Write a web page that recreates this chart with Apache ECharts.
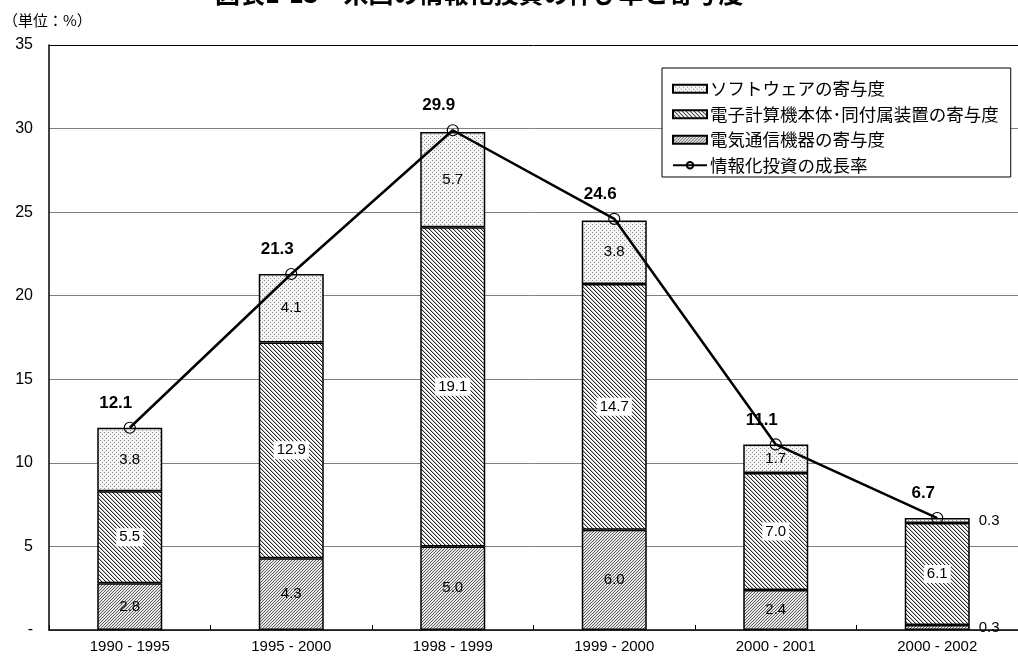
<!DOCTYPE html>
<html lang="ja">
<head>
<meta charset="utf-8">
<title>米国の情報化投資</title>
<script src="https://cdn.jsdelivr.net/npm/echarts@6/dist/echarts.min.js"></script>
<style>
  html, body { margin: 0; padding: 0; background: #fff; }
  #chart { width: 1018px; height: 659px; }
</style>
</head>
<body>
<div id="chart"></div>
<script>
// Periods on the category axis
const categories = ['1990 - 1995', '1995 - 2000', '1998 - 1999', '1999 - 2000', '2000 - 2001', '2000 - 2002'];
// Contributions (percentage points), stacked bottom to top
const telecom = [2.8, 4.3, 5.0, 6.0, 2.4, 0.3];      // 電気通信機器の寄与度
const computers = [5.5, 12.9, 19.1, 14.7, 7.0, 6.1]; // 電子計算機本体・同付属装置の寄与度
const software = [3.8, 4.1, 5.7, 3.8, 1.7, 0.3];     // ソフトウェアの寄与度
// Growth rate of IT investment (%)
const growth = [12.1, 21.3, 29.9, 24.6, 11.1, 6.7];  // 情報化投資の成長率

const seriesNames = ['ソフトウェアの寄与度', '電子計算機本体･同付属装置の寄与度', '電気通信機器の寄与度', '情報化投資の成長率'];

const FONT = '"Liberation Sans", Arial, "Noto Sans CJK JP", sans-serif';
const CJK = '"Noto Sans CJK JP", "Liberation Sans", sans-serif';

// Small repeating tiles used as fill patterns
function tile(size, bg, cells) {
  const c = document.createElement('canvas');
  c.width = size; c.height = size;
  const g = c.getContext('2d');
  g.fillStyle = bg; g.fillRect(0, 0, size, size);
  cells.forEach(([x, y, col]) => { g.fillStyle = col; g.fillRect(x, y, 1, 1); });
  return { image: c, repeat: 'repeat' };
}
// stipple
const dotFill = tile(4, '#f4f4f4', [[0, 0, '#8c8c8c'], [2, 2, '#8c8c8c']]);
// "\\\\" hatch
const backHatch = tile(4, '#ffffff', [[0, 0, '#2a2a2a'], [1, 1, '#2a2a2a'], [2, 2, '#2a2a2a'], [3, 3, '#2a2a2a'], [1, 0, '#c4c4c4'], [2, 1, '#c4c4c4'], [3, 2, '#c4c4c4'], [0, 3, '#c4c4c4']]);
// fine "////" hatch
const fwdHatch = tile(3, '#e6e6e6', [[2, 0, '#606060'], [1, 1, '#606060'], [0, 2, '#606060']]);

const segLabel = {
  show: true,
  position: 'inside',
  color: '#000',
  fontFamily: FONT,
  fontSize: 15,
  formatter: p => p.value.toFixed(1)
};

// thin segments get their value beside the bar
const sideLabel = v => (v < 1 ? { value: v, label: { position: 'right', distance: 9 } } : v);

const barStyle = fill => ({ color: fill, borderColor: '#000', borderWidth: 1.5 });

const chart = echarts.init(document.getElementById('chart'), null, { renderer: 'canvas' });

chart.setOption({
  animation: false,
  backgroundColor: '#fff',
  graphic: [
    {
      type: 'text', left: 215, top: -19, silent: true,
      style: { text: '図表1-13　米国の情報化投資の伸び率と寄与度', font: 'bold 25px ' + CJK, fill: '#000' }
    },
    {
      type: 'text', left: 3, top: 13, silent: true,
      style: { text: '（単位：%）', font: '15px ' + CJK, fill: '#000' }
    }
  ],
  legend: {
    orient: 'vertical',
    left: 662,
    top: 68,
    width: 350,
    padding: [12, 12, 3, 10],
    itemGap: 8,
    itemWidth: 34,
    itemHeight: 8,
    backgroundColor: '#fff',
    borderColor: '#000',
    borderWidth: 1,
    data: [
      { name: seriesNames[0], icon: 'rect' },
      { name: seriesNames[1], icon: 'rect' },
      { name: seriesNames[2], icon: 'rect' },
      { name: seriesNames[3] }
    ],
    textStyle: { fontFamily: CJK, fontSize: 17.5, color: '#000', padding: [0, 0, 0, -2] }
  },
  grid: { left: 49, right: -9, top: 45, bottom: 29, containLabel: false },
  xAxis: {
    type: 'category',
    data: categories,
    axisLine: { lineStyle: { color: '#000', width: 1.5 } },
    axisTick: { show: true, inside: true, length: 5, lineStyle: { color: '#000' } },
    axisLabel: { color: '#000', fontFamily: FONT, fontSize: 15, margin: 9 }
  },
  yAxis: {
    type: 'value',
    min: 0, max: 35, interval: 5,
    axisLine: { show: true, lineStyle: { color: '#000', width: 1.5 } },
    axisTick: { show: false },
    axisLabel: { color: '#000', fontFamily: FONT, fontSize: 16, margin: 16, formatter: v => (v === 0 ? '-' : String(v)) },
    splitLine: { lineStyle: { color: ['#808080', '#808080', '#808080', '#808080', '#808080', '#808080', '#808080', '#000'], width: 1 } }
  },
  series: [
    {
      name: seriesNames[2], type: 'bar', stack: 'c', barWidth: 65,
      data: telecom.map(sideLabel),
      itemStyle: barStyle(fwdHatch),
      label: segLabel, z: 2
    },
    {
      name: seriesNames[1], type: 'bar', stack: 'c', barWidth: 65,
      data: computers.map(sideLabel),
      itemStyle: barStyle(backHatch),
      label: Object.assign({}, segLabel, { backgroundColor: '#fff', padding: [2, 3, 1, 3] }), z: 2
    },
    {
      name: seriesNames[0], type: 'bar', stack: 'c', barWidth: 65,
      data: software.map(sideLabel),
      itemStyle: barStyle(dotFill),
      label: segLabel, z: 2
    },
    {
      name: seriesNames[3], type: 'line',
      data: growth,
      symbol: 'circle', symbolSize: 11,
      lineStyle: { color: '#000', width: 2.5 },
      itemStyle: { color: 'rgba(255,255,255,0)', borderColor: '#000', borderWidth: 1.2 },
      label: {
        show: true, position: 'top', distance: 10, offset: [-14, 0],
        color: '#000', fontFamily: FONT, fontSize: 17, fontWeight: 'bold',
        formatter: p => p.value.toFixed(1)
      },
      z: 5
    }
  ]
});
</script>
</body>
</html>
